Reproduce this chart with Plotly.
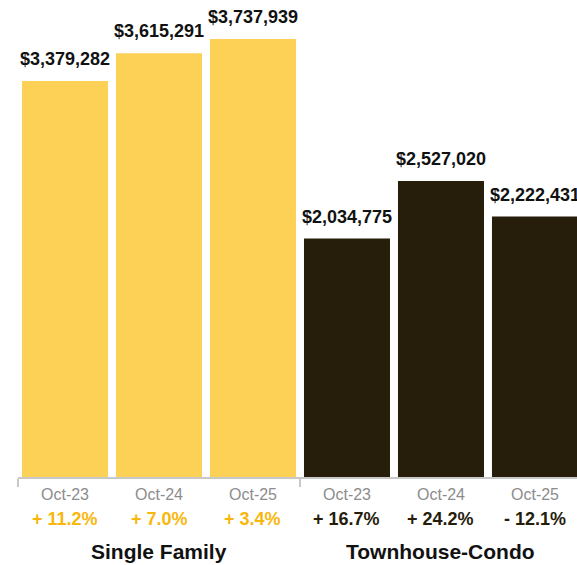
import plotly.graph_objects as go

# Median sale price, October of each year
groups = ["Single Family", "Townhouse-Condo"]
periods = ["Oct-23", "Oct-24", "Oct-25"]
single_family = [3379282, 3615291, 3737939]
townhouse_condo = [2034775, 2527020, 2222431]
sf_change = ["+ 11.2%", "+ 7.0%", "+ 3.4%"]
tc_change = ["+ 16.7%", "+ 24.2%", "- 12.1%"]

YELLOW = "#FDD155"
DARK = "#271D0B"
PCT_YELLOW = "#F8B70C"
FONT = "Liberation Sans, Arial, sans-serif"

values = single_family + townhouse_condo
xs = list(range(len(values)))
colors = [YELLOW] * len(single_family) + [DARK] * len(townhouse_condo)
changes = sf_change + tc_change
change_colors = [PCT_YELLOW] * len(sf_change) + [DARK] * len(tc_change)
period_labels = periods + periods

fig = go.Figure(
    go.Bar(
        x=xs,
        y=values,
        marker=dict(color=colors, line=dict(width=0)),
        width=0.915,
        hoverinfo="skip",
    )
)

annotations = []
for x, v, ch, cc, p in zip(xs, values, changes, change_colors, period_labels):
    # value label above each bar
    annotations.append(dict(
        x=x, y=v, xref="x", yref="y", text=f"<b>${v:,.0f}</b>",
        showarrow=False, yanchor="bottom", yshift=10,
        font=dict(family=FONT, size=18, color="#111111"),
    ))
    # period label below the axis
    annotations.append(dict(
        x=x, y=0, xref="x", yref="paper", text=p, showarrow=False,
        yanchor="middle", yshift=-17,
        font=dict(family=FONT, size=16, color="#8C8C8C"),
    ))
    # year-over-year change
    annotations.append(dict(
        x=x, y=0, xref="x", yref="paper", text=f"<b>{ch}</b>", showarrow=False,
        yanchor="middle", yshift=-42,
        font=dict(family=FONT, size=18, color=cc),
    ))

# group titles centred under each set of bars
n = len(periods)
for gi, g in enumerate(groups):
    annotations.append(dict(
        x=gi * n + (n - 1) / 2, y=0, xref="x", yref="paper",
        text=f"<b>{g}</b>", showarrow=False, yanchor="middle", yshift=-74,
        font=dict(family=FONT, size=21, color="#111111"),
    ))

fig.update_layout(
    width=577,
    height=565,
    margin=dict(l=18, r=0, t=0, b=88),
    paper_bgcolor="white",
    plot_bgcolor="white",
    showlegend=False,
    annotations=annotations,
    xaxis=dict(
        range=[-0.5, 5.447],
        tickvals=[-0.5 + gi * n for gi in range(len(groups))],
        ticktext=["" for _ in groups],
        ticks="outside",
        ticklen=8,
        tickwidth=2,
        tickcolor="#C8C8C8",
        showline=True,
        linecolor="#C8C8C8",
        linewidth=2,
        showgrid=False,
        zeroline=False,
        fixedrange=True,
    ),
    yaxis=dict(
        range=[0, 4070797],
        visible=False,
        showgrid=False,
        zeroline=False,
        fixedrange=True,
    ),
)

fig.write_html("out.html")
